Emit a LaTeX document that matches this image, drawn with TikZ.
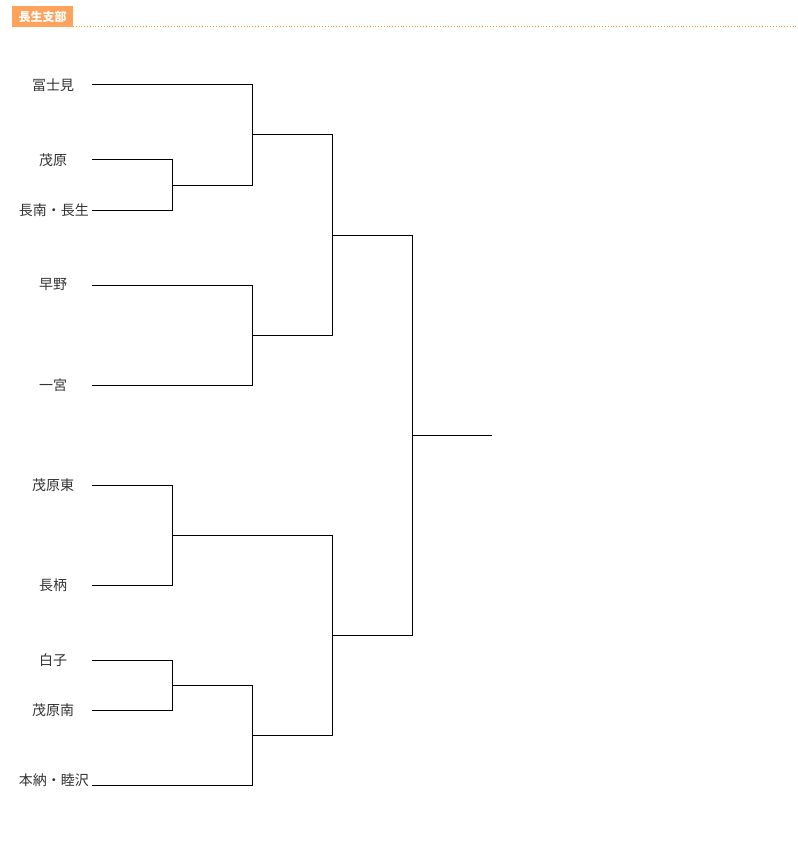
\documentclass[tikz,border=0pt]{standalone}
\usepackage{fontspec}
\newfontfamily\cjk{Noto Sans CJK JP}
\definecolor{hdr}{HTML}{FFA35C}
\definecolor{dot}{HTML}{E8A020}
\definecolor{txt}{HTML}{333333}
\begin{document}
\begin{tikzpicture}[x=1pt,y=-1pt,
  team/.style={font=\cjk\fontsize{14}{16}\selectfont,text=txt,inner sep=0pt},
  ln/.style={line width=1pt}]
\useasboundingbox (0,0) rectangle (797,845);
\fill[hdr] (12,6) rectangle (73,27);
\node[font=\cjk\bfseries\fontsize{12}{14}\selectfont,text=white] (h) at (42.5,16.5) {長生支部};
\draw[dot,dotted,line width=0.8pt] (73,26.5) -- (797,26.5);
% teams
\node[team] (t1) at (53,85) {冨士見};
\node[team] (t2) at (53,160) {茂原};
\node[team,anchor=east] (t3) at (89,210) {長南・長生};
\node[team] (t4) at (53,285) {早野};
\node[team] (t5) at (53,385) {一宮};
\node[team] (t6) at (53,485) {茂原東};
\node[team] (t7) at (53,585) {長柄};
\node[team] (t8) at (53,660) {白子};
\node[team] (t9) at (53,710) {茂原南};
\node[team,anchor=east] (t10) at (89,780) {本納・睦沢};
\draw[ln] (92,85) -- (252,85) -- (252,185) -- (172,185);
\draw[ln] (92,160) -- (172,160) -- (172,210) -- (92,210);
\draw[ln] (252,135) -- (332,135) -- (332,335) -- (252,335);
\draw[ln] (92,285) -- (252,285) -- (252,385) -- (92,385);
\draw[ln] (332,235) -- (412,235) -- (412,635) -- (332,635);
\draw[ln] (412,435) -- (492,435);
\draw[ln] (92,485) -- (172,485) -- (172,585) -- (92,585);
\draw[ln] (172,535) -- (332,535) -- (332,735) -- (252,735);
\draw[ln] (92,660) -- (172,660) -- (172,710) -- (92,710);
\draw[ln] (172,685) -- (252,685) -- (252,785) -- (92,785);
\end{tikzpicture}
\end{document}
